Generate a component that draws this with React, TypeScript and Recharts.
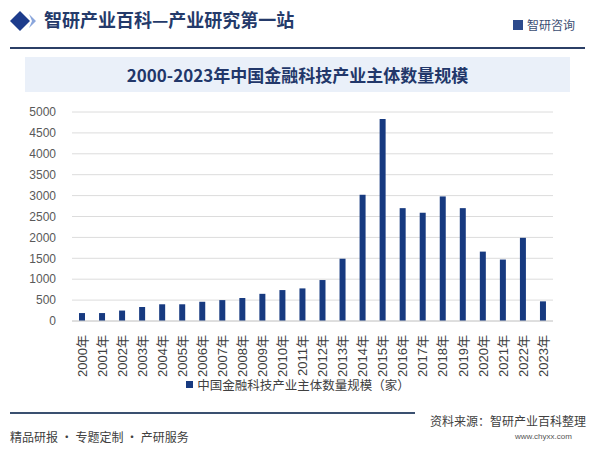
import React from 'react';
import { BarChart, Bar, XAxis, YAxis, CartesianGrid } from 'recharts';

const years = [
  '2000年', '2001年', '2002年', '2003年', '2004年', '2005年', '2006年', '2007年',
  '2008年', '2009年', '2010年', '2011年', '2012年', '2013年', '2014年', '2015年',
  '2016年', '2017年', '2018年', '2019年', '2020年', '2021年', '2022年', '2023年',
];
const counts = [
  190, 190, 250, 335, 400, 400, 460, 500, 550, 650, 740, 780,
  980, 1490, 3020, 4830, 2700, 2590, 2980, 2700, 1660, 1470, 1990, 470,
];
const yTicks = [0, 500, 1000, 1500, 2000, 2500, 3000, 3500, 4000, 4500, 5000];
const seriesName = '中国金融科技产业主体数量规模（家）';

const data = years.map((year, i) => ({ year, value: counts[i] }));

const FONT = '"Liberation Sans", "Noto Sans CJK SC", sans-serif';
const CJK = '"Noto Sans CJK SC", "Liberation Sans", sans-serif';
const BAR = '#173a80';

const YearTick = (props: any) => {
  const { x, y, payload } = props;
  return (
    <g transform={`translate(${x},${y})`}>
      <text
        transform="rotate(-90)"
        x={-6}
        y={0}
        dy="0.36em"
        textAnchor="end"
        fill="#404040"
        fontSize={13}
        fontFamily={FONT}
      >
        {payload.value}
      </text>
    </g>
  );
};

export default function App() {
  return (
    <div style={{ position: 'absolute', left: 0, top: 0, width: 596, height: 451, background: '#fff', overflow: 'hidden' }}>
      {/* header */}
      <svg style={{ position: 'absolute', left: 10, top: 10 }} width={32} height={22}>
        <polygon points="10,1 20,11 10,21 0,11" fill="#1d3c8c" />
        <polygon points="19,4 26,11 19,18 22,11" fill="#8aa6dc" />
      </svg>
      <div style={{ position: 'absolute', left: 44, top: 6, fontFamily: CJK, fontWeight: 700, fontSize: 18, color: '#243a6a' }}>
        智研产业百科—产业研究第一站
      </div>
      <div style={{ position: 'absolute', left: 513, top: 16, fontFamily: CJK, fontSize: 12, color: '#3b4d72', display: 'flex', alignItems: 'center' }}>
        <span style={{ display: 'inline-block', width: 10, height: 10, background: '#2c4a8c', marginRight: 4 }} />
        智研咨询
      </div>
      <div style={{ position: 'absolute', left: 10, top: 47, width: 575, height: 2, background: '#2b3f66' }} />

      {/* title */}
      <div style={{ position: 'absolute', left: 25, top: 57, width: 545, height: 35, background: '#eaf0f9', display: 'flex', alignItems: 'center', justifyContent: 'center', fontFamily: CJK, fontWeight: 700, fontSize: 17, color: '#22376a' }}>
        2000-2023年中国金融科技产业主体数量规模
      </div>

      {/* chart */}
      <div style={{ position: 'absolute', left: 0, top: 0 }}>
        <BarChart width={596} height={451} data={data} margin={{ top: 112, right: 43, bottom: 70, left: 12 }}>
          <CartesianGrid vertical={false} stroke="#dcdcdc" />
          <XAxis
            dataKey="year"
            interval={0}
            height={60}
            tick={<YearTick />}
            tickLine={false}
            axisLine={{ stroke: '#d0d0d0' }}
          />
          <YAxis
            width={60}
            domain={[0, 5000]}
            ticks={yTicks}
            interval={0}
            tickLine={false}
            axisLine={false}
            tick={{ fill: '#595959', fontSize: 12, fontFamily: FONT }}
            tickMargin={10}
          />
          <Bar dataKey="value" name={seriesName} fill={BAR} barSize={6} isAnimationActive={false} />
        </BarChart>
      </div>

      {/* legend */}
      <div style={{ position: 'absolute', left: 0, top: 375, width: 596, display: 'flex', justifyContent: 'center', alignItems: 'center', fontFamily: CJK, fontSize: 12.5, color: '#404040' }}>
        <span style={{ display: 'inline-block', width: 7, height: 7, background: BAR, marginRight: 4 }} />
        {seriesName}
      </div>

      {/* footer */}
      <div style={{ position: 'absolute', left: 10, top: 412, width: 405, height: 1.5, background: '#3a5070' }} />
      <div style={{ position: 'absolute', left: 430, top: 412, fontFamily: CJK, fontSize: 12, color: '#404040' }}>
        资料来源：智研产业百科整理
      </div>
      <div style={{ position: 'absolute', left: 515, top: 432, fontFamily: FONT, fontSize: 8, color: '#555' }}>
        www.chyxx.com
      </div>
      <div style={{ position: 'absolute', left: 10, top: 428, fontFamily: CJK, fontSize: 12, color: '#404040' }}>
        精品研报 · 专题定制 · 产研服务
      </div>
    </div>
  );
}
